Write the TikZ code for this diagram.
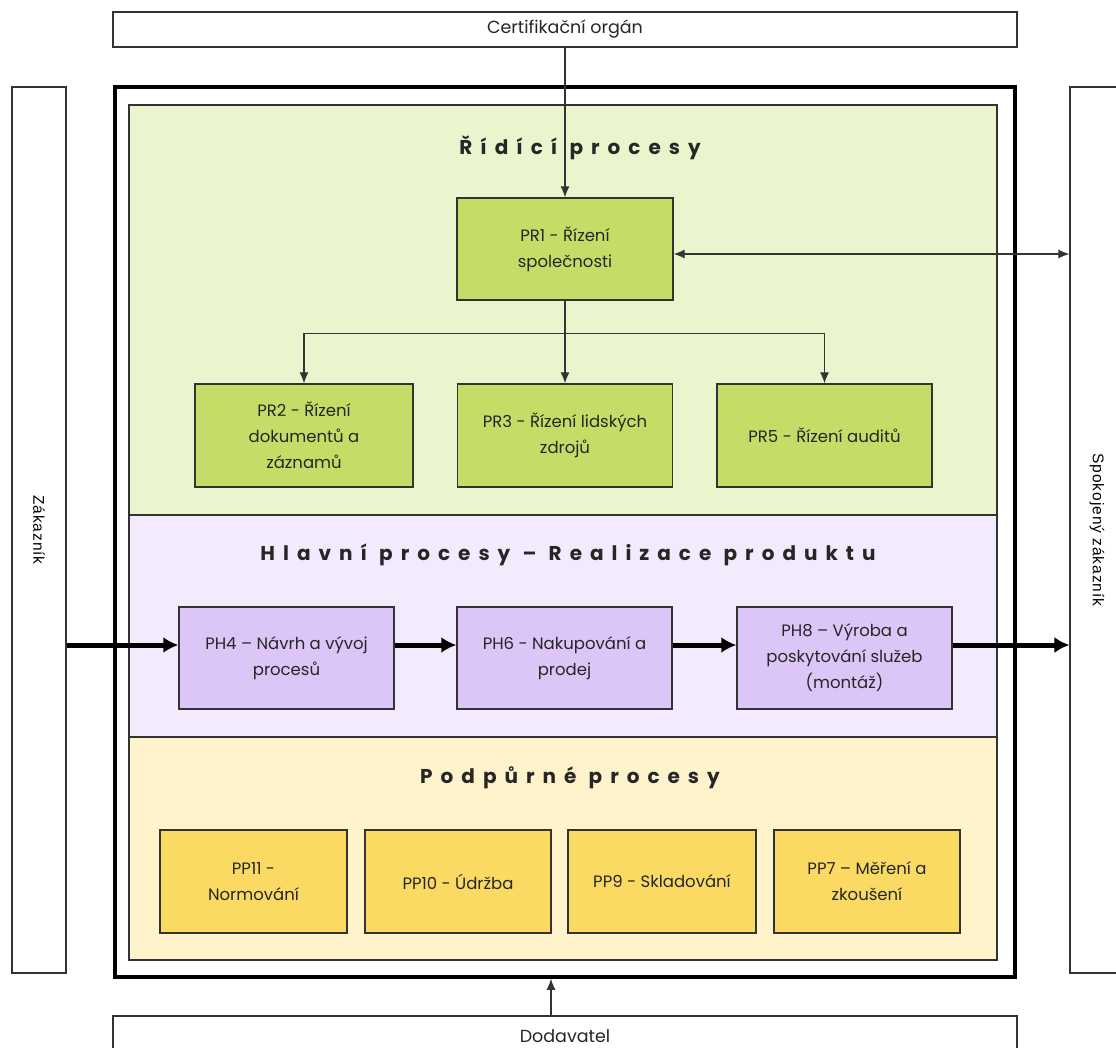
\documentclass[tikz,border=0pt]{standalone}
\usepackage{fontspec}
\setmainfont{Poppins}
\newfontfamily\titlefont{Poppins}[LetterSpace=40]
\newfontfamily\sidefont{Liberation Sans}[LetterSpace=6]
\usetikzlibrary{arrows.meta}
\definecolor{gbg}{HTML}{EBF5CD}
\definecolor{gbox}{HTML}{C5DD66}
\definecolor{pbg}{HTML}{F3EAFD}
\definecolor{pbox}{HTML}{DCC5F7}
\definecolor{ybg}{HTML}{FEF3CB}
\definecolor{ybox}{HTML}{FADA62}
\definecolor{edge}{HTML}{333333}
\tikzset{
  procbox/.style={draw=edge, line width=1.4pt, align=center, inner sep=0pt,
    font=\fontsize{16.5}{26}\selectfont, text=black!85},
  gbx/.style={procbox, fill=gbox},
  pbx/.style={procbox, fill=pbox},
  ybx/.style={procbox, fill=ybox},
  region/.style={draw=edge, line width=1.1pt, inner sep=0pt},
  framebox/.style={draw=edge, line width=1.1pt, fill=white, inner sep=0pt},
  frametext/.style={font=\fontsize{17.5}{20}\selectfont, text=black!85},
  titletext/.style={font=\titlefont\bfseries\fontsize{20}{22}\selectfont, text=black!85},
  sidetext/.style={font=\sidefont\fontsize{15.5}{17}\selectfont},
  thinarr/.style={draw=edge, line width=1.1pt, -{Latex[length=11pt,width=9pt]}},
  dblarr/.style={draw=edge, line width=1.1pt, {Latex[length=11pt,width=9pt]}-{Latex[length=11pt,width=9pt]}},
  thickarr/.style={draw=black, line width=5pt, -{Latex[length=15pt,width=16pt]}}
}
\begin{document}
\begin{tikzpicture}[x=1pt,y=-1pt]
\useasboundingbox (0,0) rectangle (1116,1047);
% outside frames
\node[framebox, minimum width=904pt, minimum height=35pt] (cert) at (565,29.5) {};
\node[frametext] at (565,29) {Certifikační orgán};
\node[framebox, minimum width=54pt, minimum height=886pt] (zak) at (39,530) {};
\node[sidetext, rotate=-90] at (zak.center) {Zákazník};
\node[framebox, minimum width=60pt, minimum height=886pt] (spok) at (1100,530) {};
\node[sidetext, rotate=-90] at (1097,530) {Spokojený zákazník};
\node[framebox, minimum width=904pt, minimum height=50pt] (dod) at (565,1041) {};
\node[frametext] at (565,1036) {Dodavatel};
% main frame
\node[draw=black, line width=3.5pt, fill=white, minimum width=900pt, minimum height=890pt, inner sep=0pt] (outer) at (565,532) {};
% regions
\node[region, fill=gbg, minimum width=868pt, minimum height=410pt] (greg) at (563,310) {};
\node[region, fill=pbg, minimum width=868pt, minimum height=222pt] (preg) at (563,626) {};
\node[region, fill=ybg, minimum width=868pt, minimum height=223pt] (yreg) at (563,848.5) {};
% titles
\node[titletext] (t1) at (580,148) {Řídící procesy};
\node[titletext] (t2) at (568,555) {Hlavní procesy – Realizace produktu};
\node[titletext] (t3) at (570,778) {Podpůrné procesy};
% green boxes
\node[gbx, minimum width=216pt, minimum height=102pt] (pr1) at (565,249) {PR1 - Řízení\\společnosti};
\node[gbx, minimum width=218pt, minimum height=103pt] (pr2) at (304,435.5) {PR2 - Řízení\\dokumentů a\\záznamů};
\node[gbx, minimum width=215pt, minimum height=103pt] (pr3) at (565,435.5) {PR3 - Řízení lidských\\zdrojů};
\node[gbx, minimum width=215pt, minimum height=103pt] (pr5) at (824.5,435.5) {PR5 - Řízení auditů};
% purple boxes
\node[pbx, minimum width=215pt, minimum height=102pt] (ph4) at (286.5,658) {PH4 – Návrh a vývoj\\procesů};
\node[pbx, minimum width=215pt, minimum height=102pt] (ph6) at (564.5,658) {PH6 - Nakupování a\\prodej};
\node[pbx, minimum width=215pt, minimum height=102pt] (ph8) at (844.5,658) {PH8 – Výroba a\\poskytování služeb\\(montáž)};
% yellow boxes
\node[ybx, minimum width=187pt, minimum height=103pt] (pp11) at (253.5,881.5) {PP11 -\\Normování};
\node[ybx, minimum width=186pt, minimum height=103pt] (pp10) at (458,881.5) {PP10 - Údržba};
\node[ybx, minimum width=188pt, minimum height=103pt] (pp9) at (662,881.5) {PP9 - Skladování};
\node[ybx, minimum width=186pt, minimum height=103pt] (pp7) at (867,881.5) {PP7 – Měření a\\zkoušení};
% connectors
\draw[thinarr] (cert.south) -- (pr1.north);
\draw[dblarr] (pr1.east |- 0,254) -- (spok.west |- 0,254);
\draw[thinarr] (pr1.south) -- (pr3.north);
\draw[thinarr] (pr1.south) -- +(0,33) -| (pr2.north);
\draw[thinarr] (pr1.south) -- +(0,33) -| (pr5.north);
\draw[thinarr] (dod.north -| 551,0) -- (outer.south -| 551,0);
\draw[thickarr] (zak.east |- 0,645) -- (ph4.west |- 0,645);
\draw[thickarr] (ph4.east |- 0,645) -- (ph6.west |- 0,645);
\draw[thickarr] (ph6.east |- 0,645) -- (ph8.west |- 0,645);
\draw[thickarr] (ph8.east |- 0,645) -- (spok.west |- 0,645);
\end{tikzpicture}
\end{document}
